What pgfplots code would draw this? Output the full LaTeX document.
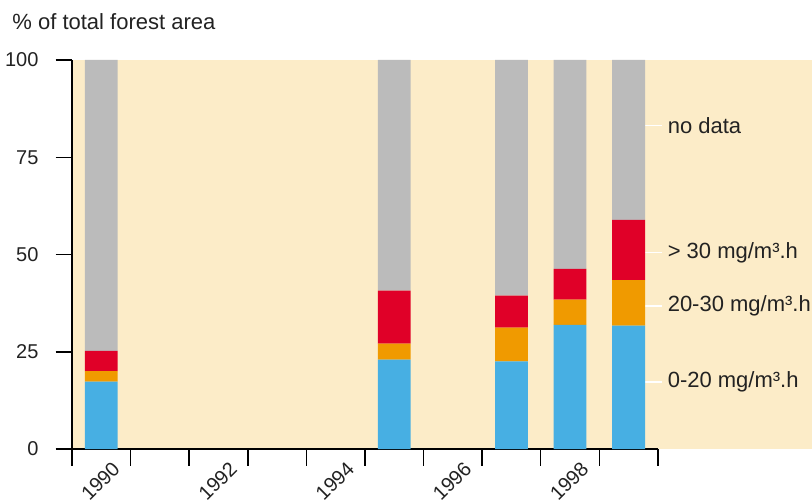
\documentclass[border=0pt]{standalone}
\usepackage{fontspec}
\setmainfont{Liberation Sans}
\usepackage{pgfplots}
\pgfplotsset{compat=1.18}
\usepackage{pgfplotstable}

\definecolor{cblue}{HTML}{47AFE3}
\definecolor{corange}{HTML}{F09A00}
\definecolor{cred}{HTML}{E00028}
\definecolor{cgray}{HTML}{BBBBBB}
\definecolor{cbg}{HTML}{FCECC8}
\definecolor{ctext}{HTML}{222222}

\tikzset{lbl/.style={right, inner sep=0pt, xshift=2.5pt, text=ctext,
        font=\fontsize{11}{13}\selectfont},
    lline/.style={white, line width=0.75pt}}

% share of total forest area per ozone exposure class
\pgfplotstableread{
year low  mid  high nodata
1990 17.3 2.7  5.2  74.8
1995 23.0 4.1  13.6 59.3
1997 22.5 8.7  8.2  60.6
1998 31.9 6.5  7.9  53.7
1999 31.7 11.7 15.5 41.1
}\areadata

\begin{document}
\begin{tikzpicture}
\begin{axis}[
    scale only axis,
    width=370pt, height=194.5pt,
    xmin=1989.5, xmax=2002.13,
    ymin=0, ymax=100,
    axis lines=left,
    axis line style={-, line width=0.75pt, black},
    x axis line style={draw=none},
    axis background/.style={fill=cbg},
    tick align=outside,
    major tick length=8.25pt,
    minor tick length=8.25pt,
    tick style={line width=0.75pt, black},
    ytick={0,25,50,75,100},
    xtick={1990,1992,1994,1996,1998},
    xticklabels={1990,1992,1994,1996,1998},
    major x tick style={draw=none},
    minor xtick={1989.5,1990.5,...,1999.5},
    /pgf/number format/assume math mode=true,
    ticklabel style={font=\fontsize{10}{12}\selectfont, text=ctext},
    xticklabel style={rotate=45, anchor=north east, inner sep=0pt, xshift=5.5pt, yshift=-1.5pt},
    yticklabel style={xshift=-5pt},
    ybar stacked, bar width=0.56,
    clip=false,
]
\addplot[fill=cblue, draw=none] table[x=year, y=low] {\areadata};
\addplot[fill=corange, draw=none] table[x=year, y=mid] {\areadata};
\addplot[fill=cred, draw=none] table[x=year, y=high] {\areadata};
\addplot[fill=cgray, draw=none] table[x=year, y=nodata] {\areadata};

\draw[black, line width=0.75pt] (axis cs:1989.5,0) -- (axis cs:1999.5,0);

\draw[lline] (axis cs:1999.18,83.1) -- (axis cs:1999.57,83.1) node[lbl] {no data};
\draw[lline] (axis cs:1999.18,50.5) -- (axis cs:1999.57,50.5) node[lbl] {> 30 mg/m³.h};
\draw[lline] (axis cs:1999.18,36.8) -- (axis cs:1999.57,36.8) node[lbl] {20-30 mg/m³.h};
\draw[lline] (axis cs:1999.18,17.2) -- (axis cs:1999.57,17.2) node[lbl] {0-20 mg/m³.h};

\node[anchor=base west, inner sep=0pt, text=ctext, font=\fontsize{11}{13}\selectfont]
    at (rel axis cs:0,1) [xshift=-30pt, yshift=15pt] {\% of total forest area};
\end{axis}
\pgfresetboundingbox
\path[use as bounding box] (-36pt,-27pt) rectangle (370pt,224.5pt);
\end{tikzpicture}
\end{document}
